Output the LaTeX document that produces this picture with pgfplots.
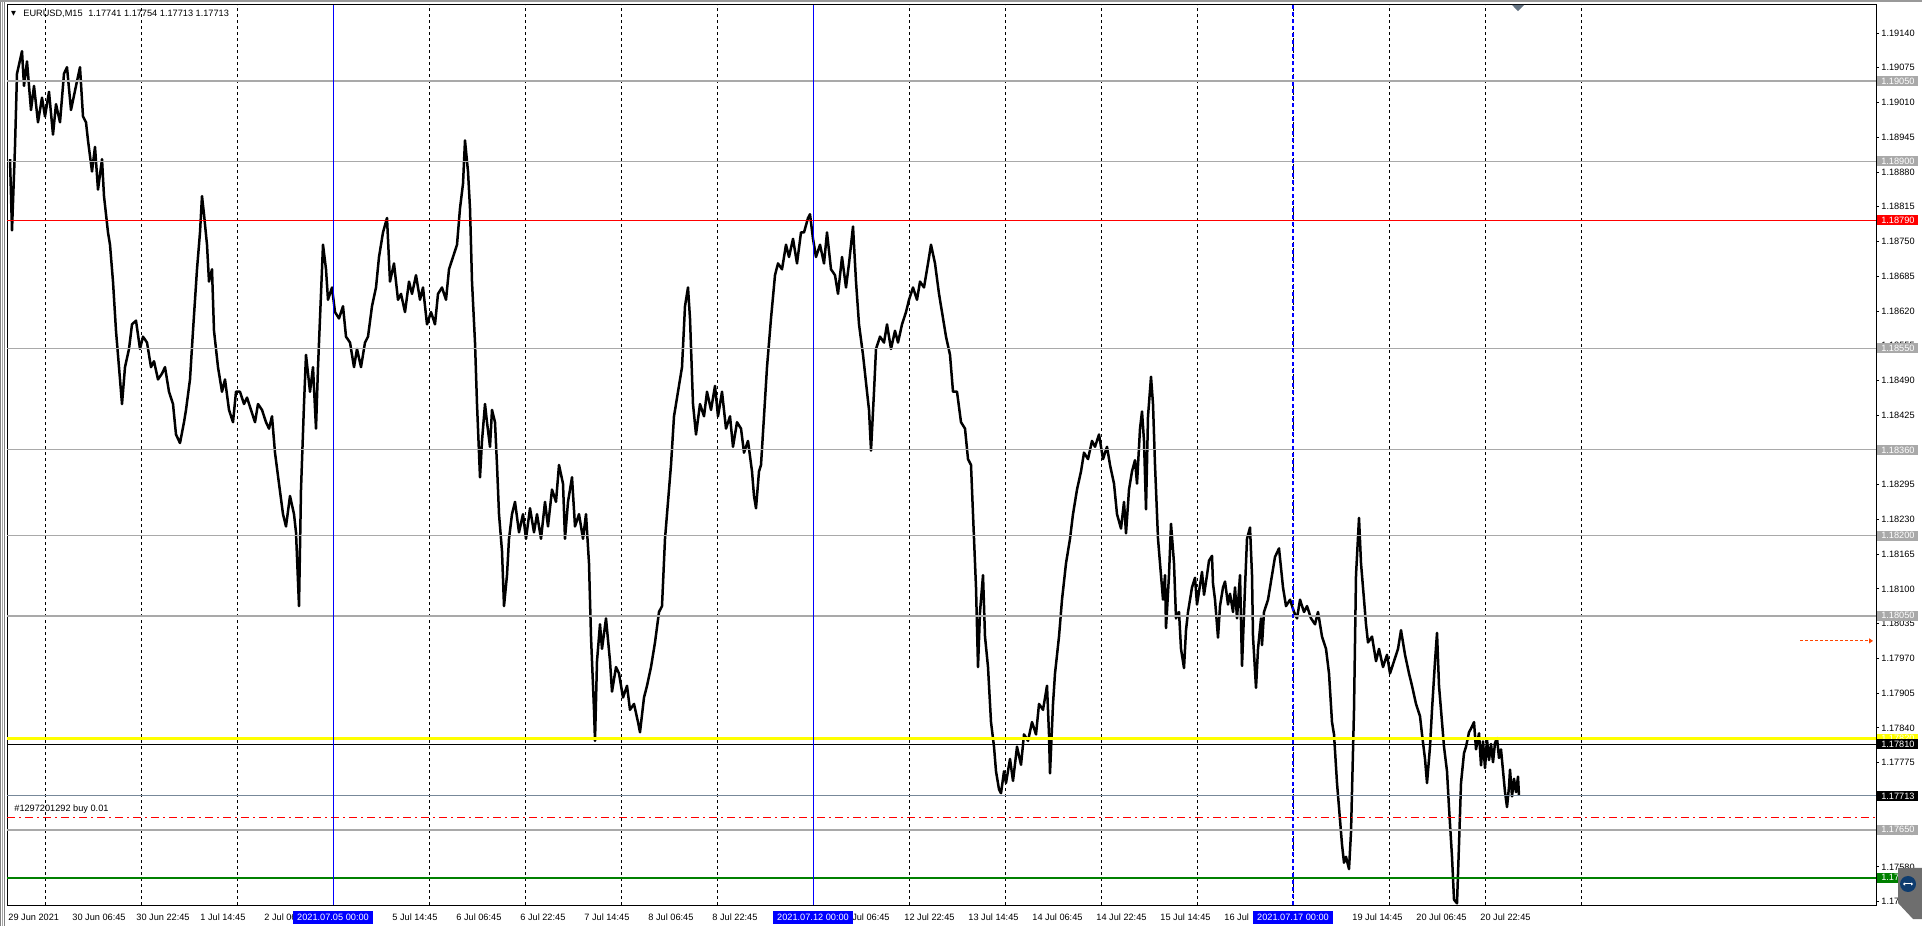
\documentclass[border=0pt]{standalone}
\usepackage{pgfplots}
\pgfplotsset{compat=1.18}
\usepackage{pgfplotstable}
\usepackage{fontspec}
\setmainfont{Liberation Sans}
\newfontfamily\symfont{DejaVu Sans}
\usetikzlibrary{arrows.meta}

\definecolor{lvlgrey}{RGB}{169,169,169}
\definecolor{bidgrey}{RGB}{119,136,153}
\definecolor{mtgreen}{RGB}{0,128,0}
\definecolor{mtblue}{RGB}{0,0,255}
\definecolor{mtorange}{RGB}{255,69,0}
\definecolor{mtyellow}{RGB}{255,255,0}
\definecolor{tvgrey}{RGB}{110,110,110}
\definecolor{tvblue}{RGB}{14,60,110}
\definecolor{shiftgrey}{RGB}{100,115,130}

% EURUSD M15, bar 0 = 2021.07.05 00:00 (one bar per pixel)
\pgfplotstableread{
bar price
-323 1.18904
-321 1.18771
-318 1.18927
-316 1.19064
-311 1.19106
-309 1.19041
-306 1.19087
-302 1.18996
-299 1.19041
-295 1.18973
-291 1.19019
-288 1.18984
-284 1.19030
-280 1.18950
-277 1.19007
-273 1.18973
-269 1.19064
-266 1.19076
-262 1.18996
-257 1.19041
-253 1.19076
-250 1.18984
-247 1.18973
-245 1.18939
-241 1.18881
-238 1.18927
-235 1.18847
-231 1.18904
-229 1.18835
-225 1.18767
-223 1.18744
-220 1.18675
-217 1.18583
-213 1.18492
-211 1.18446
-208 1.18515
-204 1.18549
-201 1.18595
-197 1.18602
-193 1.18549
-190 1.18572
-186 1.18561
-182 1.18515
-179 1.18526
-175 1.18492
-171 1.18503
-168 1.18515
-164 1.18469
-160 1.18446
-157 1.18389
-153 1.18373
-149 1.18412
-147 1.18435
-143 1.18492
-140 1.18583
-136 1.18698
-133 1.18767
-131 1.18835
-129 1.18801
-126 1.18744
-124 1.18675
-121 1.18698
-119 1.18583
-115 1.18515
-111 1.18469
-108 1.18492
-104 1.18435
-100 1.18412
-97 1.18469
-93 1.18469
-89 1.18446
-86 1.18458
-82 1.18435
-78 1.18412
-75 1.18446
-71 1.18435
-67 1.18412
-64 1.18400
-61 1.18423
-58 1.18355
-54 1.18297
-50 1.18240
-47 1.18217
-43 1.18274
-39 1.18240
-37 1.18206
-34 1.18068
-32 1.18286
-29 1.18446
-27 1.18538
-23 1.18469
-20 1.18515
-17 1.18400
-15 1.18515
-12 1.18652
-10 1.18744
-7 1.18698
-5 1.18641
-1 1.18664
2 1.18618
6 1.18606
10 1.18629
13 1.18572
17 1.18561
21 1.18515
24 1.18549
28 1.18515
32 1.18561
35 1.18572
39 1.18629
43 1.18664
46 1.18721
50 1.18767
54 1.18794
57 1.18675
61 1.18709
65 1.18641
68 1.18652
72 1.18618
76 1.18675
79 1.18652
83 1.18687
87 1.18641
90 1.18664
94 1.18595
98 1.18618
102 1.18595
105 1.18652
109 1.18664
113 1.18641
116 1.18698
120 1.18721
124 1.18744
127 1.18812
130 1.18858
132 1.18939
135 1.18881
137 1.18812
139 1.18675
142 1.18561
144 1.18446
147 1.18309
149 1.18377
152 1.18446
154 1.18412
157 1.18366
159 1.18435
162 1.18412
164 1.18332
166 1.18240
169 1.18171
171 1.18068
174 1.18126
176 1.18194
179 1.18240
182 1.18263
186 1.18206
190 1.18240
193 1.18194
197 1.18251
201 1.18206
204 1.18240
208 1.18194
212 1.18263
215 1.18217
219 1.18286
223 1.18263
226 1.18332
230 1.18297
232 1.18194
235 1.18263
239 1.18309
242 1.18217
246 1.18240
250 1.18194
253 1.18240
256 1.18148
258 1.18011
261 1.17874
262 1.17816
264 1.17965
267 1.18034
269 1.17988
273 1.18045
277 1.17965
279 1.17908
283 1.17954
286 1.17942
290 1.17897
294 1.17919
297 1.17874
301 1.17885
305 1.17851
307 1.17832
311 1.17897
314 1.17919
318 1.17954
322 1.18000
326 1.18057
329 1.18068
332 1.18194
334 1.18240
338 1.18332
341 1.18423
345 1.18469
349 1.18515
352 1.18629
355 1.18664
357 1.18606
360 1.18446
363 1.18389
367 1.18446
371 1.18423
374 1.18469
378 1.18435
382 1.18480
385 1.18423
389 1.18469
393 1.18400
397 1.18423
400 1.18366
404 1.18412
408 1.18400
411 1.18355
415 1.18377
419 1.18320
421 1.18274
423 1.18251
426 1.18320
428 1.18332
431 1.18423
434 1.18515
438 1.18606
442 1.18687
445 1.18709
449 1.18698
453 1.18744
456 1.18721
460 1.18755
464 1.18709
468 1.18767
471 1.18767
475 1.18794
477 1.18801
480 1.18755
483 1.18721
487 1.18744
491 1.18709
494 1.18767
498 1.18698
502 1.18687
505 1.18652
509 1.18721
513 1.18664
516 1.18709
520 1.18778
523 1.18675
526 1.18595
530 1.18538
534 1.18469
536 1.18435
538 1.18359
541 1.18469
543 1.18549
547 1.18572
551 1.18561
554 1.18595
558 1.18549
562 1.18583
565 1.18561
569 1.18595
573 1.18618
576 1.18641
580 1.18664
584 1.18641
587 1.18675
591 1.18664
595 1.18709
598 1.18744
602 1.18709
606 1.18652
609 1.18618
613 1.18572
617 1.18538
620 1.18469
624 1.18469
628 1.18412
632 1.18400
635 1.18343
638 1.18332
640 1.18240
643 1.18103
645 1.17954
647 1.18057
650 1.18126
652 1.18011
655 1.17954
658 1.17851
661 1.17805
663 1.17759
666 1.17725
668 1.17718
671 1.17759
673 1.17737
677 1.17782
680 1.17741
684 1.17805
688 1.17771
691 1.17828
695 1.17816
699 1.17851
703 1.17828
706 1.17885
710 1.17874
714 1.17919
716 1.17828
717 1.17755
720 1.17885
722 1.17942
726 1.18011
729 1.18080
733 1.18148
737 1.18194
740 1.18240
744 1.18286
748 1.18320
751 1.18355
755 1.18343
759 1.18377
762 1.18366
766 1.18389
770 1.18343
774 1.18366
777 1.18332
781 1.18297
784 1.18240
788 1.18213
791 1.18263
793 1.18204
796 1.18286
799 1.18320
802 1.18341
804 1.18297
807 1.18400
809 1.18432
811 1.18377
813 1.18249
815 1.18423
818 1.18497
820 1.18446
822 1.18332
825 1.18194
827 1.18148
830 1.18080
832 1.18126
833 1.18027
836 1.18126
838 1.18222
841 1.18148
843 1.18045
846 1.18057
848 1.17988
851 1.17952
853 1.18023
855 1.18057
859 1.18103
862 1.18121
864 1.18071
867 1.18107
869 1.18132
871 1.18089
874 1.18126
876 1.18153
879 1.18162
880 1.18110
882 1.18080
885 1.18009
887 1.18068
890 1.18103
892 1.18114
895 1.18071
897 1.18091
900 1.18057
902 1.18103
904 1.18045
907 1.18126
909 1.17956
912 1.18103
914 1.18194
917 1.18215
919 1.18126
920 1.18011
923 1.17915
925 1.17988
928 1.18045
929 1.17995
931 1.18057
935 1.18080
939 1.18126
942 1.18160
946 1.18176
950 1.18103
953 1.18068
957 1.18080
961 1.18057
964 1.18045
967 1.18080
971 1.18057
974 1.18068
978 1.18045
982 1.18034
985 1.18057
989 1.18011
993 1.17988
996 1.17942
999 1.17851
1001 1.17828
1004 1.17737
1006 1.17691
1009 1.17622
1011 1.17588
1013 1.17599
1016 1.17576
1018 1.17645
1021 1.17874
1023 1.18126
1026 1.18233
1028 1.18148
1031 1.18080
1033 1.18034
1035 1.18000
1039 1.18011
1043 1.17965
1046 1.17988
1050 1.17954
1054 1.17977
1057 1.17942
1061 1.17965
1065 1.17988
1068 1.18023
1072 1.17977
1076 1.17942
1079 1.17919
1083 1.17885
1087 1.17862
1089 1.17828
1092 1.17782
1094 1.17737
1097 1.17805
1099 1.17874
1102 1.17965
1104 1.18018
1106 1.17919
1109 1.17851
1111 1.17805
1114 1.17759
1116 1.17691
1119 1.17599
1121 1.17519
1124 1.17512
1126 1.17622
1128 1.17737
1131 1.17793
1133 1.17805
1136 1.17832
1138 1.17839
1141 1.17851
1143 1.17800
1146 1.17830
1148 1.17770
1150 1.17815
1152 1.17765
1154 1.17818
1156 1.17780
1158 1.17810
1160 1.17776
1162 1.17812
1164 1.17821
1166 1.17784
1168 1.17800
1170 1.17760
1172 1.17720
1174 1.17692
1176 1.17730
1177 1.17762
1179 1.17712
1181 1.17745
1183 1.17720
1185 1.17749
1186 1.17713
}\eurusd

\tikzset{
  pricebox/.style={fill=#1, text=white, anchor=west, inner sep=0pt,
    minimum width=20.5bp, minimum height=5bp, xshift=0.5bp},
  datebox/.style={fill=mtblue, text=white, inner sep=0pt,
    minimum width=40bp, minimum height=6.5bp, yshift=-6.25bp},
}

\begin{document}
\begin{tikzpicture}[font=\fontsize{4.6bp}{5.5bp}\selectfont]
\path[use as bounding box, fill=white] (-3.5bp,-10.5bp) rectangle (957.5bp,452.5bp);
% window frame
\draw[gray, line width=0.5bp] (-3.25bp,-10.5bp) -- (-3.25bp,452.5bp);
\draw[gray!70, line width=0.5bp] (-2.25bp,-10.5bp) -- (-2.25bp,452.5bp);
\draw[gray, line width=0.5bp] (-1.25bp,-10.5bp) -- (-1.25bp,452.5bp);
\draw[gray!80, line width=1bp] (-3.5bp,452bp) -- (957.5bp,452bp);

\begin{axis}[
    at={(0,0)}, anchor=south west,
    scale only axis, width=934.5bp, height=450bp,
    xmin=-326, xmax=1543,
    ymin=1.175089, ymax=1.191924,
    axis line style={line width=0.5bp, black},
    xtick={-288,-192,...,1248},
    xticklabels={},
    xmajorgrids,
    major x grid style={black, line width=0.5bp, dash pattern=on 1.5bp off 1.5bp},
    major x tick style={draw=none},
    ytick pos=right, yticklabel pos=right,
    ytick align=outside,
    major y tick style={black, line width=0.5bp},
    major tick length=1.5bp,
    ytick={1.19140,1.19075,1.19010,1.18945,1.18880,1.18815,1.18750,1.18685,1.18620,
           1.18555,1.18490,1.18425,1.18360,1.18295,1.18230,1.18165,1.18100,1.18035,
           1.17970,1.17905,1.17840,1.17775,1.17710,1.17645,1.17580,1.17515},
    yticklabels={1.19140,1.19075,1.19010,1.18945,1.18880,1.18815,1.18750,1.18685,1.18620,
           1.18555,1.18490,1.18425,1.18360,1.18295,1.18230,1.18165,1.18100,1.18035,
           1.17970,1.17905,1.17840,1.17775,1.17710,1.17645,1.17580,1.17515},
    yticklabel style={font=\fontsize{4.6bp}{5.5bp}\selectfont, anchor=west, inner sep=0pt, xshift=1bp},
    clip mode=individual,
    after end axis/.code={
      % price boxes on the right scale
      \node[pricebox=lvlgrey] at (axis cs:1543,1.19050) {1.19050};
      \node[pricebox=lvlgrey] at (axis cs:1543,1.18900) {1.18900};
      \node[pricebox=red] at (axis cs:1543,1.18790) {1.18790};
      \node[pricebox=lvlgrey] at (axis cs:1543,1.18550) {1.18550};
      \node[pricebox=lvlgrey] at (axis cs:1543,1.18360) {1.18360};
      \node[pricebox=lvlgrey] at (axis cs:1543,1.18200) {1.18200};
      \node[pricebox=lvlgrey] at (axis cs:1543,1.18050) {1.18050};
      \node[pricebox=mtyellow, text=white] at (axis cs:1543,1.17820) {1.17820};
      \node[pricebox=black] at (axis cs:1543,1.17810) {1.17810};
      \node[pricebox=black] at (axis cs:1543,1.17713) {1.17713};
      \node[pricebox=lvlgrey] at (axis cs:1543,1.17650) {1.17650};
      \node[pricebox=mtgreen] at (axis cs:1543,1.17560) {1.17560};
      % time scale
      \foreach \b/\t in {-325/29 Jun 2021, -261/30 Jun 06:45, -197/30 Jun 22:45,
          -133/1 Jul 14:45, -69/2 Jul 06, 59/5 Jul 14:45,
          123/6 Jul 06:45, 187/6 Jul 22:45, 251/7 Jul 14:45, 315/8 Jul 06:45,
          379/8 Jul 22:45, 571/12 Jul 22:45,
          635/13 Jul 14:45, 699/14 Jul 06:45, 763/14 Jul 22:45, 827/15 Jul 14:45,
          891/16 Jul, 1019/19 Jul 14:45, 1083/20 Jul 06:45,
          1147/20 Jul 22:45}
        {\node[anchor=west, inner sep=0pt] at ([yshift=-6.25bp]axis cs:\b,1.175089) {\t};}
      \node[anchor=east, inner sep=0pt] at ([yshift=-6.25bp]axis cs:557,1.175089) {Jul 06:45};
      \node[datebox] at (axis cs:0,1.175089) {2021.07.05 00:00};
      \node[datebox] at (axis cs:480,1.175089) {2021.07.12 00:00};
      \node[datebox] at (axis cs:960,1.175089) {2021.07.17 00:00};
      % header and order label
      \node[anchor=center, inner sep=0pt] at ([xshift=3.3bp, yshift=-4.6bp]rel axis cs:0,1)
        {\symfont\fontsize{3.2bp}{3.2bp}\selectfont ▼};
      \node[anchor=west, inner sep=0pt] at ([xshift=8bp, yshift=-4.5bp]rel axis cs:0,1)
        {EURUSD,M15\hspace{2.8bp}1.17741 1.17754 1.17713 1.17713};
      \node[anchor=west, inner sep=0pt] at ([xshift=3.5bp, yshift=4.5bp]axis cs:-326,1.17672)
        {\#1297201292 buy 0.01};
      \fill[shiftgrey] (axis cs:1179,1.191924) -- (axis cs:1191,1.191924)
        -- (axis cs:1185,1.19181) -- cycle;
    },
]
  \addplot[black, line width=1.25bp, line join=round] table[x=bar, y=price] {\eurusd};

  % horizontal levels
  \addplot[lvlgrey, line width=1bp] coordinates {(-326,1.19050) (1543,1.19050)};
  \addplot[lvlgrey, line width=0.5bp] coordinates {(-326,1.18900) (1543,1.18900)};
  \addplot[red, line width=0.5bp] coordinates {(-326,1.18790) (1543,1.18790)};
  \addplot[lvlgrey, line width=0.5bp] coordinates {(-326,1.18550) (1543,1.18550)};
  \addplot[lvlgrey, line width=0.5bp] coordinates {(-326,1.18360) (1543,1.18360)};
  \addplot[lvlgrey, line width=0.5bp] coordinates {(-326,1.18200) (1543,1.18200)};
  \addplot[lvlgrey, line width=1bp] coordinates {(-326,1.18050) (1543,1.18050)};
  \addplot[mtyellow, line width=1.3bp] coordinates {(-326,1.17820) (1543,1.17820)};
  \addplot[black, line width=0.5bp] coordinates {(-326,1.17810) (1543,1.17810)};
  \addplot[bidgrey, line width=0.5bp] coordinates {(-326,1.17713) (1543,1.17713)};
  \addplot[red, line width=0.5bp, dash pattern=on 4bp off 2bp on 1bp off 2bp]
    coordinates {(-326,1.17672) (1543,1.17672)};
  \addplot[lvlgrey, line width=1bp] coordinates {(-326,1.17650) (1543,1.17650)};
  \addplot[mtgreen, line width=1bp] coordinates {(-326,1.17560) (1543,1.17560)};

  % vertical lines
  \addplot[mtblue, line width=0.5bp] coordinates {(0,1.175089) (0,1.191924)};
  \addplot[mtblue, line width=0.5bp] coordinates {(480,1.175089) (480,1.191924)};
  \addplot[mtblue, line width=0.8bp, dash pattern=on 2bp off 1.5bp]
    coordinates {(960,1.175089) (960,1.191924)};

  % price shift arrow
  \addplot[mtorange, line width=0.5bp, dash pattern=on 1.5bp off 1bp,
    -{Triangle[length=2bp, width=2.5bp]}] coordinates {(1467,1.18003) (1540,1.18003)};
\end{axis}

% remote-control tab in the corner
\fill[tvgrey] (945.5bp,18.5bp) -- (957.5bp,18.5bp) -- (957.5bp,-7bp) -- (953bp,-7bp)
  -- (945.5bp,1bp) -- cycle;
\fill[tvblue] (950.5bp,10.5bp) circle (4bp);
\draw[white, line width=0.5bp, {Triangle[length=1bp,width=1.5bp]}-{Triangle[length=1bp,width=1.5bp]}]
  (948bp,10.5bp) -- (953bp,10.5bp);
\end{tikzpicture}
\end{document}
